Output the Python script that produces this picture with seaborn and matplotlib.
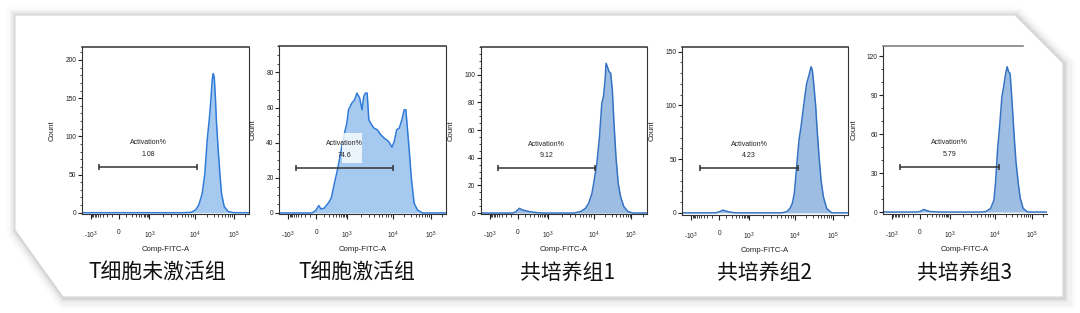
import numpy as np
import pandas as pd
import matplotlib
matplotlib.use("Agg")
import matplotlib.pyplot as plt
import seaborn as sns
from matplotlib.patches import Polygon, Rectangle
from matplotlib.ticker import FixedLocator, AutoMinorLocator

# ---------------- data ----------------
groups = ["T细胞未激活组", "T细胞激活组", "共培养组1", "共培养组2", "共培养组3"]
activation_pct = ["1.08", "74.6", "9.12", "4.23", "5.79"]

p1_x = [-2300, 5700, 8100, 10000, 12200, 15000, 17600, 20300, 22900, 25400, 27500, 29200,
        31000, 32900, 35700, 39500, 43700, 48300, 56700, 72000, 98000, 250000]
p1_y = [0, 0, 0.5, 3.5, 10, 25, 51, 95, 121, 148, 174, 182,
        178, 156, 117, 82, 51, 25, 8, 1.5, 0, 0]

p2_x = [-2300, -350, -62, -10, 32, 61, 107, 178, 246, 333, 441, 582, 765, 1000, 1089, 1186,
        1291, 1480, 1668, 1910, 2154, 2345, 2553, 2783, 3030, 3474, 3915, 4645, 5508, 6531,
        8147, 9665, 11050, 12700, 14920, 17500, 20140, 22270, 24620, 27220, 31330, 36760,
        44870, 60650, 250000]
p2_y = [0, 0, 0, 1.3, 4.2, 2.3, 2.7, 5.5, 8.4, 16.9, 24.5, 34, 43.5, 51, 58.7, 60.6,
        62.5, 64.4, 68.2, 65.4, 58.7, 66.3, 68.2, 68.2, 53, 50.2, 48.3, 47.3, 44.5, 42.6,
        40.7, 37.5, 40.7, 47.3, 48.3, 53, 58.7, 58.7, 47.3, 36, 18.8, 5.5,
        1.7, 0, 0]

p3_x = [-2300, -68, -22, 22, 67, 179, 416, 744, 3727, 5180, 6630, 7810, 9210, 10410, 12210,
        14350, 16490, 18230, 20140, 21380, 23170, 25620, 28330, 31330, 34620, 39000, 44870,
        51640, 63100, 81860, 110000, 250000]
p3_y = [0, 0, 1, 3.4, 2.2, 1, 0.2, 0, 0, 1, 3.4, 7, 14.2, 23.9, 35.9,
        55.2, 79.3, 84.1, 96.1, 108.2, 105.8, 102.2, 101, 88.9, 64.8, 40.7, 21.4,
        11.8, 4.6, 1, 0, 0]

p4_x = [-2300, -47, 0, 50, 137, 275, 5060, 6530, 7740, 8730, 9670, 11070, 12770, 14430,
        15990, 17700, 20420, 23550, 26620, 28840, 31940, 35390, 39190, 43380, 48980, 56490,
        69300, 94000, 250000]
p4_y = [0, 0, 0.9, 2.5, 0.9, 0, 0, 0.9, 4, 8.7, 18, 42.9, 67.7, 80.1,
        92.5, 105, 120.5, 128.3, 136, 132.9, 117.4, 98.8, 73.9, 52.2, 30.4, 14.9,
        4, 0, 0]

p5_x = [-2300, -47, 9, 53, 147, 355, 4930, 6350, 8170, 9670, 10550, 11970, 13830, 15680,
        17460, 19810, 21680, 23720, 25950, 28380, 31060, 33970, 37150, 42950, 48700, 58300,
        76400, 250000]
p5_y = [0, 0, 0.4, 2, 0.4, 0, 0, 0.3, 2.8, 9.2, 22.1, 47.7, 68.2, 88.7,
        96.4, 106.7, 111.8, 108, 106.7, 91.3, 73.3, 55.4, 39.5, 22.1, 10.5, 2.8,
        0, 0]

xs = [p1_x, p2_x, p3_x, p4_x, p5_x]
ys = [p1_y, p2_y, p3_y, p4_y, p5_y]

gate_lo = [-460, -505, -470, -437, -470]
gate_hi = [10900, 10300, 10900, 12100, 13000]
gate_y = [60, 25.7, 32.3, 41.4, 34.8]

y_ticks = [[0, 50, 100, 150, 200], [0, 20, 40, 60, 80], [0, 20, 40, 60, 80, 100],
           [0, 50, 100, 150], [0, 30, 60, 90, 120]]
y_max = [217, 95, 120, 154.4, 128]
y_min = [-1.7, -0.6, -0.7, -2, -1.5]
y_minor_n = [5, 4, 4, 5, 3]

x_tick_vals = [-1000, 0, 1000, 10000, 100000]
x_tick_labels = [r"-$\mathregular{10^{3}}$", "0", r"$\mathregular{10^{3}}$",
                 r"$\mathregular{10^{4}}$", r"$\mathregular{10^{5}}$"]
x_minor_vals = ([-v for v in range(100, 1000, 100)] + list(range(100, 1000, 100)) +
                list(range(2000, 10000, 1000)) + list(range(20000, 100000, 10000)) + [200000])

fill_colors = ["#a6c9f0", "#a6c9f0", "#9dbde2", "#9dbde2", "#9dbde2"]
line_colors = ["#2f7bd8", "#2f7bd8", "#3473c2", "#3473c2", "#3473c2"]

# ---------------- biexponential-like axis ----------------
_W = 150.0
_anchor_vals = np.array([-1000, 0, 1000, 10000, 100000], dtype=float)
_A = np.arcsinh(_anchor_vals / _W)
_P = np.array([0.055, 0.222, 0.405, 0.68, 0.908])
_A_ext = np.concatenate([[-8.0], _A, [10.0]])
_P_ext = np.concatenate([[_P[0] - (_A[0] + 8.0) * (_P[1] - _P[0]) / (_A[1] - _A[0])], _P,
                         [_P[-1] + (10.0 - _A[-1]) * (_P[-1] - _P[-2]) / (_A[-1] - _A[-2])]])


def fwd(x):
    x = np.asarray(x, dtype=float)
    return np.interp(np.arcsinh(x / _W), _A_ext, _P_ext)


def inv(p):
    p = np.asarray(p, dtype=float)
    return _W * np.sinh(np.interp(p, _P_ext, _A_ext))


# ---------------- figure ----------------
sns.set_theme(style="ticks")
plt.rcParams["font.family"] = ["Liberation Sans", "DejaVu Sans"]
plt.rcParams["mathtext.fontset"] = "custom"
plt.rcParams["mathtext.rm"] = "Liberation Sans"

W, H = 1080, 313
fig = plt.figure(figsize=(W / 100, H / 100), dpi=100)
fig.patch.set_facecolor("white")


def fp(pts):
    return [(x / W, 1 - y / H) for x, y in pts]


frame = [(15, 15), (1015, 15), (1063, 63), (1063, 297), (63, 297), (15, 230)]
for lw, a, dx, dy in [(14, 0.02, 2, 2), (10, 0.03, 2, 2), (6, 0.045, 1, 1), (3, 0.07, 1, 1)]:
    sh = Polygon(fp([(x + dx, y + dy) for x, y in frame]), closed=True, fill=False,
                 edgecolor="black", lw=lw, alpha=a, transform=fig.transFigure, zorder=-3)
    fig.add_artist(sh)
fig.add_artist(Polygon(fp(frame), closed=True, facecolor="white", edgecolor="#d8d8d8",
                       lw=0.8, transform=fig.transFigure, zorder=-2))

rects = [(81.7, 47, 249, 214), (279.3, 46, 446, 214), (480.7, 47, 646.7, 214),
         (682.3, 47, 848, 215), (883.3, 45.7, 1047, 214)]
label_cx = [157, 357, 568, 765, 965]

for i in range(5):
    l, t, r, b = rects[i]
    ax = fig.add_axes([l / W, 1 - b / H, (r - l) / W, (b - t) / H])
    ax.set_facecolor("none")
    ax.set_xscale("function", functions=(fwd, inv))
    df = pd.DataFrame({"x": xs[i], "count": ys[i]})
    ax.fill_between(df["x"], df["count"], 0, color=fill_colors[i], lw=0, zorder=1)
    sns.lineplot(data=df, x="x", y="count", ax=ax, color=line_colors[i], lw=1.1,
                 sort=False, estimator=None, zorder=2)
    ax.set_xlim(float(inv(0.0)), float(inv(1.0)))
    ax.set_ylim(y_min[i], y_max[i])

    ax.set_xticks(x_tick_vals)
    ax.set_xticklabels(x_tick_labels)
    ax.xaxis.set_minor_locator(FixedLocator(x_minor_vals))
    ax.set_yticks(y_ticks[i])
    ax.yaxis.set_minor_locator(AutoMinorLocator(y_minor_n[i]))
    ax.tick_params(axis="x", which="major", direction="out", length=3.5, width=0.8,
                   pad=7.5, labelsize=4.8, colors="#222")
    ax.tick_params(axis="x", which="minor", direction="out", length=2, width=0.6, colors="#222")
    ax.tick_params(axis="y", which="major", direction="out", length=3, width=0.8,
                   pad=1, labelsize=4.8, colors="#222")
    ax.tick_params(axis="y", which="minor", direction="out", length=1.6, width=0.6, colors="#222")
    ax.set_xlabel("Comp-FITC-A", fontsize=5.6, labelpad=4, color="#222")
    ax.set_ylabel("Count", fontsize=5.6, labelpad=7, color="#222")
    for s in ax.spines.values():
        s.set_color("#333")
        s.set_linewidth(0.8)
    ax.spines["top"].set_linewidth(1.1)
    if i == 4:
        ax.spines["right"].set_visible(False)
        ax.spines["top"].set_bounds(float(inv(0.0)), float(inv(0.852)))
        ax.spines["top"].set_color("#777")

    # gate
    ax.plot([gate_lo[i], gate_hi[i]], [gate_y[i], gate_y[i]], color="#333", lw=1.1,
            marker="|", ms=5, mew=1.1, zorder=4)
    mid = float(inv((fwd(gate_lo[i]) + fwd(gate_hi[i])) / 2))
    if i == 1:
        ax.add_patch(Rectangle((0.374, 0.302), 0.123, 0.182, transform=ax.transAxes,
                               facecolor="white", alpha=0.8, lw=0, zorder=3))
    ax.annotate("Activation%", xy=(mid, gate_y[i]), xytext=(0, 24), textcoords="offset pixels",
                ha="center", va="center", fontsize=5, color="#222", zorder=5)
    ax.annotate(activation_pct[i], xy=(mid, gate_y[i]), xytext=(0, 12.5),
                textcoords="offset pixels", ha="center", va="center", fontsize=5,
                color="#222", zorder=5)

    fig.text(label_cx[i] / W, 1 - 273 / H, groups[i], ha="center", va="center",
             fontsize=15, color="#111", family=["Noto Sans CJK SC", "DejaVu Sans"])

fig.savefig("out.png", dpi=100)
